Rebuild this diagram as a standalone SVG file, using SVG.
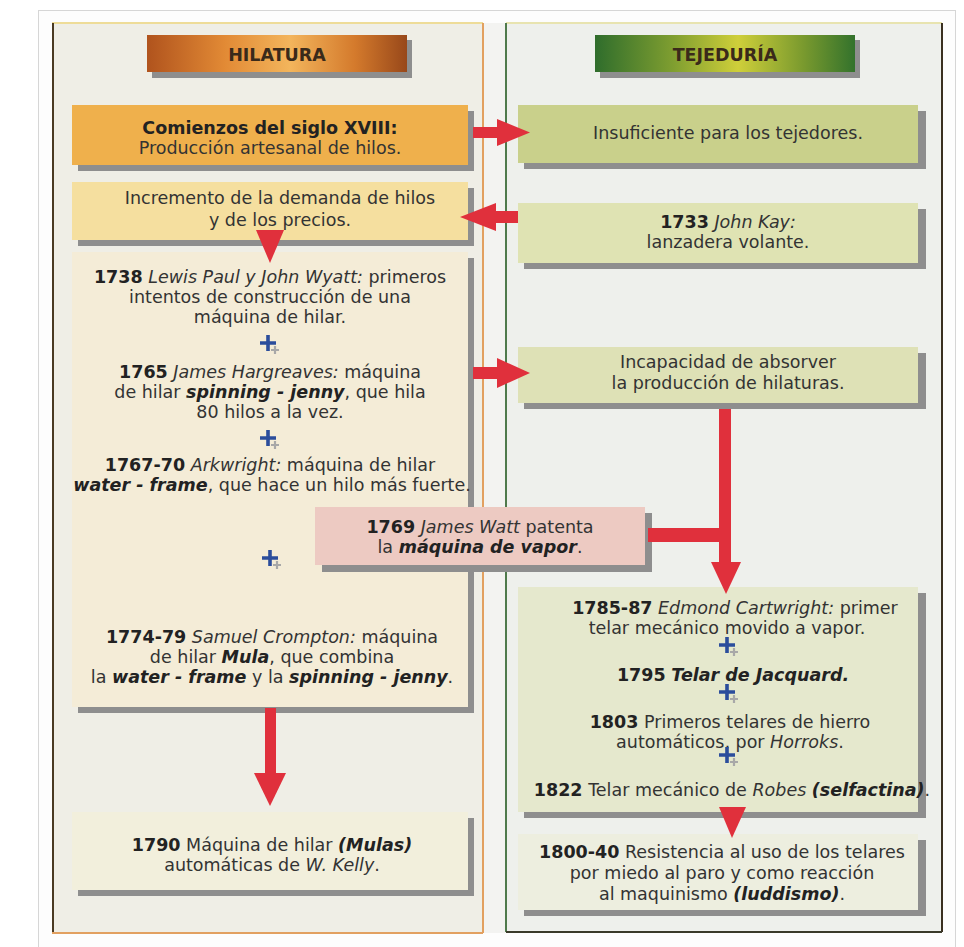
<svg xmlns="http://www.w3.org/2000/svg" width="964" height="947" viewBox="0 0 964 947">
<defs>
<linearGradient id="gHil" x1="0" y1="0" x2="1" y2="0">
<stop offset="0" stop-color="#b0531d"/>
<stop offset="0.3" stop-color="#e28a35"/>
<stop offset="0.55" stop-color="#f3b55c"/>
<stop offset="0.8" stop-color="#d47a2c"/>
<stop offset="1" stop-color="#98481a"/>
</linearGradient>
<linearGradient id="gTej" x1="0" y1="0" x2="1" y2="0">
<stop offset="0" stop-color="#2f6d2c"/>
<stop offset="0.3" stop-color="#7f9e30"/>
<stop offset="0.55" stop-color="#cfcf3a"/>
<stop offset="0.8" stop-color="#7a9a2e"/>
<stop offset="1" stop-color="#33722c"/>
</linearGradient>
<g id="plus">
<path d="M1 5h8M5 1v8" stroke="#a8a8a8" stroke-width="2.2" fill="none" transform="translate(2,2)"/>
<path d="M-8 0h16M0 -8v16" stroke="#2b4d9c" stroke-width="3.6" fill="none"/>
</g>
</defs>
<style>
.t{font-family:"DejaVu Sans","Liberation Sans",sans-serif;font-size:17.5px;fill:#333;text-anchor:middle}
.b{font-weight:bold;fill:#222}
.i{font-style:italic}
.h{font-family:"DejaVu Sans","Liberation Sans",sans-serif;font-size:17.5px;font-weight:bold;fill:#3a2a1a;text-anchor:middle}
.sh{fill:#8e8e8e}
.red{fill:#e0303c}
</style>
<rect width="964" height="947" fill="#ffffff"/>
<rect x="38.5" y="10.5" width="917" height="945" fill="#fdfdfd" stroke="#d6d6d6"/>
<g id="panels">
<rect x="52" y="23" width="431" height="910" fill="#efeee6"/>
<rect x="484" y="23" width="22" height="910" fill="#f3f3f1"/>
<rect x="506" y="23" width="436" height="909" fill="#eef0ec"/>
<line x1="52" y1="23" x2="483" y2="23" stroke="#eedc98" stroke-width="2"/>
<line x1="506" y1="23" x2="942" y2="23" stroke="#e8e4b0" stroke-width="2"/>
<line x1="53" y1="23" x2="53" y2="933" stroke="#4a3a22" stroke-width="2"/>
<line x1="483" y1="23" x2="483" y2="933" stroke="#e2a060" stroke-width="2"/>
<line x1="52" y1="933" x2="483" y2="933" stroke="#e2a060" stroke-width="2"/>
<line x1="506" y1="23" x2="506" y2="932" stroke="#4f7a4c" stroke-width="2"/>
<line x1="942" y1="23" x2="942" y2="932" stroke="#3a3020" stroke-width="2"/>
<line x1="506" y1="932" x2="942" y2="932" stroke="#3a3a2a" stroke-width="2"/>
</g>
<g id="hdr-hilatura">
<rect x="152" y="40" width="260" height="38" class="sh"/>
<rect x="147" y="35" width="260" height="37" fill="url(#gHil)"/>
<text class="h" x="277" y="61">HILATURA</text>
</g>
<g id="hdr-tejeduria">
<rect x="600" y="40" width="260" height="38" class="sh"/>
<rect x="595" y="35" width="260" height="37" fill="url(#gTej)"/>
<text class="h" x="725" y="61">TEJEDURÍA</text>
</g>
<g id="n-comienzos">
<rect x="78" y="111" width="396" height="60" class="sh"/>
<rect x="72" y="105" width="396" height="60" fill="#efb04c"/>
<text class="t" x="270" y="134"><tspan class="b">Comienzos del siglo XVIII:</tspan></text>
<text class="t" x="270" y="154">Producción artesanal de hilos.</text>
</g>
<g id="n-incremento">
<rect x="78" y="188" width="396" height="58" class="sh"/>
<rect x="72" y="182" width="396" height="58" fill="#f5df9f"/>
<text class="t" x="280" y="204">Incremento de la demanda de hilos</text>
<text class="t" x="280" y="226">y de los precios.</text>
</g>
<g id="n-hilatura-maquinas">
<rect x="78" y="258" width="396" height="455" class="sh"/>
<rect x="72" y="252" width="396" height="455" fill="#f4ecd7"/>
<text class="t" x="270" y="283"><tspan class="b">1738</tspan> <tspan class="i">Lewis Paul y John Wyatt:</tspan> primeros</text>
<text class="t" x="270" y="303">intentos de construcción de una</text>
<text class="t" x="270" y="323">máquina de hilar.</text>
<use href="#plus" x="268" y="343"/>
<text class="t" x="270" y="378"><tspan class="b">1765</tspan> <tspan class="i">James Hargreaves:</tspan> máquina</text>
<text class="t" x="270" y="398">de hilar <tspan class="b i">spinning - jenny</tspan>, que hila</text>
<text class="t" x="270" y="418">80 hilos a la vez.</text>
<use href="#plus" x="268" y="438"/>
<text class="t" x="270" y="471"><tspan class="b">1767-70</tspan> <tspan class="i">Arkwright:</tspan> máquina de hilar</text>
<text class="t" x="272" y="491"><tspan class="b i">water - frame</tspan>, que hace un hilo más fuerte.</text>
<use href="#plus" x="270" y="558"/>
<text class="t" x="272" y="643"><tspan class="b">1774-79</tspan>  <tspan class="i">Samuel Crompton:</tspan> máquina</text>
<text class="t" x="272" y="663">de hilar <tspan class="b i">Mula</tspan>, que combina</text>
<text class="t" x="272" y="683">la <tspan class="b i">water - frame</tspan> y la <tspan class="b i">spinning - jenny</tspan>.</text>
</g>
<g id="n-mulas">
<rect x="78" y="818" width="396" height="78" class="sh"/>
<rect x="72" y="812" width="396" height="78" fill="#f2efdc"/>
<text class="t" x="272" y="851"><tspan class="b">1790</tspan> Máquina de hilar <tspan class="b i">(Mulas)</tspan></text>
<text class="t" x="272" y="871">automáticas de <tspan class="i">W. Kelly</tspan>.</text>
</g>
<g id="n-insuficiente">
<rect x="524" y="111" width="402" height="58" class="sh"/>
<rect x="518" y="105" width="400" height="58" fill="#c9d08b"/>
<text class="t" x="728" y="139">Insuficiente para los tejedores.</text>
</g>
<g id="n-kay">
<rect x="524" y="209" width="402" height="60" class="sh"/>
<rect x="518" y="203" width="400" height="60" fill="#dfe3b3"/>
<text class="t" x="728" y="228"><tspan class="b">1733</tspan> <tspan class="i">John Kay:</tspan></text>
<text class="t" x="728" y="248">lanzadera volante.</text>
</g>
<g id="n-incapacidad">
<rect x="524" y="353" width="402" height="56" class="sh"/>
<rect x="518" y="347" width="400" height="56" fill="#dee1b6"/>
<text class="t" x="728" y="368">Incapacidad de absorver</text>
<text class="t" x="728" y="389">la producción de hilaturas.</text>
</g>
<g id="n-telares">
<rect x="524" y="593" width="402" height="225" class="sh"/>
<rect x="518" y="587" width="400" height="225" fill="#e5e8cd"/>
<text class="t" x="735" y="614"><tspan class="b">1785-87</tspan> <tspan class="i">Edmond Cartwright:</tspan> primer</text>
<text class="t" x="727" y="634">telar mecánico movido a vapor.</text>
<use href="#plus" x="727" y="645"/>
<text class="t" x="733" y="681"><tspan class="b">1795</tspan> <tspan class="b i">Telar de Jacquard.</tspan></text>
<use href="#plus" x="727" y="692"/>
<text class="t" x="730" y="728"><tspan class="b">1803</tspan> Primeros telares de hierro</text>
<text class="t" x="730" y="748">automáticos, por <tspan class="i">Horroks</tspan>.</text>
<use href="#plus" x="727" y="755"/>
<text class="t" x="732" y="796"><tspan class="b">1822</tspan> Telar mecánico de <tspan class="i">Robes</tspan> <tspan class="b i">(selfactina)</tspan>.</text>
</g>
<g id="n-luddismo">
<rect x="524" y="840" width="402" height="76" class="sh"/>
<rect x="518" y="834" width="400" height="76" fill="#edeedf"/>
<text class="t" x="722" y="858"><tspan class="b">1800-40</tspan> Resistencia al uso de los telares</text>
<text class="t" x="722" y="879">por miedo al paro y como reacción</text>
<text class="t" x="722" y="900">al maquinismo <tspan class="b i">(luddismo)</tspan>.</text>
</g>
<g id="n-watt">
<rect x="322" y="513" width="330" height="59" class="sh"/>
<rect x="315" y="507" width="330" height="58" fill="#edcac2"/>
<text class="t" x="480" y="533"><tspan class="b">1769</tspan> <tspan class="i">James Watt</tspan> patenta</text>
<text class="t" x="480" y="553">la <tspan class="b i">máquina de vapor</tspan>.</text>
</g>
<g id="connectors">
<rect x="473" y="127" width="27" height="11" class="red"/>
<polygon points="497,119 530,132.5 497,146" class="red"/>
<rect x="493" y="211" width="25" height="12" class="red"/>
<polygon points="460,217 496,203 496,231" class="red"/>
<rect x="473" y="367" width="27" height="12" class="red"/>
<polygon points="497,358 530,373 497,388" class="red"/>
<polygon points="256,230 284,230 270,263" class="red"/>
<rect x="265" y="708" width="11" height="67" class="red"/>
<polygon points="254,773 286,773 270,806" class="red"/>
<rect x="719" y="409" width="12" height="155" class="red"/>
<rect x="648" y="528" width="83" height="14" class="red"/>
<polygon points="711,562 741,562 726,594" class="red"/>
<polygon points="719,807 746,807 732,838" class="red"/>
</g>
</svg>
